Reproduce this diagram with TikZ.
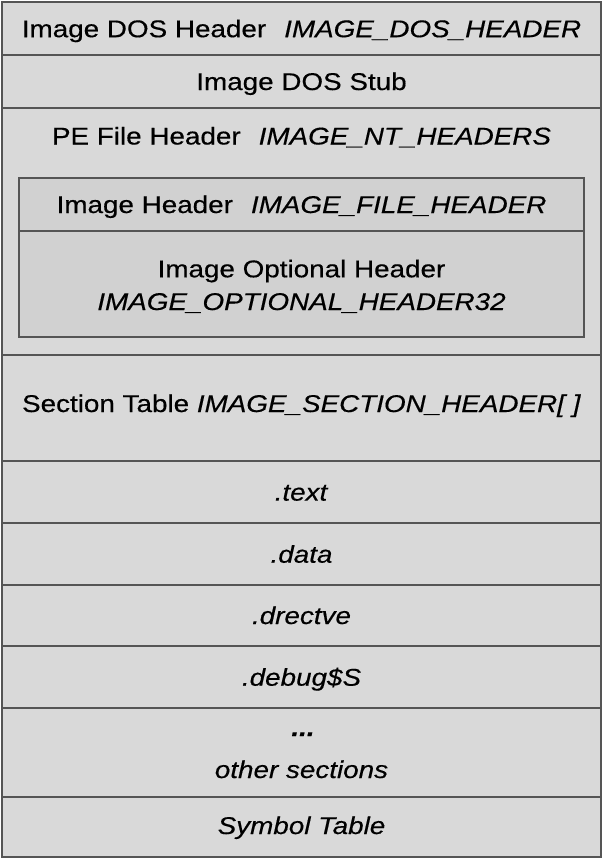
\documentclass[tikz,border=0pt]{standalone}
\usepackage{fontspec}
\setmainfont{Liberation Sans}[FakeStretch=1.15, FakeBold=0.4]
\definecolor{rowfill}{HTML}{D9D9D9}
\definecolor{innerfill}{HTML}{D1D1D1}
\definecolor{edge}{HTML}{555555}
\tikzset{
  box/.style={draw=edge, line width=1.2pt, fill=rowfill, anchor=north west, inner sep=0pt, outer sep=0pt, minimum width=599pt},
  innerbox/.style={box, fill=innerfill, minimum width=565pt},
  lbl/.style={anchor=base, inner sep=0pt, font=\fontsize{24.2}{29}\selectfont}
}
\begin{document}
\begin{tikzpicture}[x=1pt,y=-1pt]
\useasboundingbox (0,0) rectangle (603,860);
\fill[white] (0,0) rectangle (603,860);
% rows
\node[box, minimum height=53pt] (r1) at (2,2) {};
\node[box, minimum height=53pt] (r2) at (2,55) {};
\node[box, minimum height=247pt] (r3) at (2,108) {};
\node[innerbox, minimum height=53pt] (i1) at (19,178) {};
\node[innerbox, minimum height=106pt] (i2) at (19,231) {};
\node[box, minimum height=106pt] (r4) at (2,355) {};
\node[box, minimum height=62pt] (r5) at (2,461) {};
\node[box, minimum height=62pt] (r6) at (2,523) {};
\node[box, minimum height=61pt] (r7) at (2,585) {};
\node[box, minimum height=62pt] (r8) at (2,646) {};
\node[box, minimum height=89pt] (r9) at (2,708) {};
\node[box, minimum height=60pt] (r10) at (2,797) {};
% labels
\node[lbl] (t1) at (301.5,37.2) {Image DOS Header\hspace{18pt}\textit{IMAGE\_DOS\_HEADER}};
\node[lbl] (t2) at (301.5,90) {Image DOS Stub};
\node[lbl] (t3) at (301.5,144.5) {PE File Header\hspace{18pt}\textit{IMAGE\_NT\_HEADERS}};
\node[lbl] (t4) at (301.5,213) {Image Header\hspace{18pt}\textit{IMAGE\_FILE\_HEADER}};
\node[lbl] (t5) at (301.5,277.3) {Image Optional Header};
\node[lbl] (t6) at (301.5,310) {\textit{IMAGE\_OPTIONAL\_HEADER32}};
\node[lbl] (t7) at (301.5,412) {Section Table \textit{IMAGE\_SECTION\_HEADER[ ]}};
\node[lbl] (t8) at (301.5,500.6) {\textit{.text}};
\node[lbl] (t9) at (301.5,562.7) {\textit{.data}};
\node[lbl] (t10) at (301.5,624) {\textit{.drectve}};
\node[lbl] (t11) at (301.5,685.7) {\textit{.debug\$S}};
\node[lbl] (t12) at (303,736) {\textbf{\textit{...}}};
\node[lbl] (t13) at (301.5,778) {\textit{other sections}};
\node[lbl] (t14) at (301.5,834) {\textit{Symbol Table}};
\end{tikzpicture}
\end{document}
